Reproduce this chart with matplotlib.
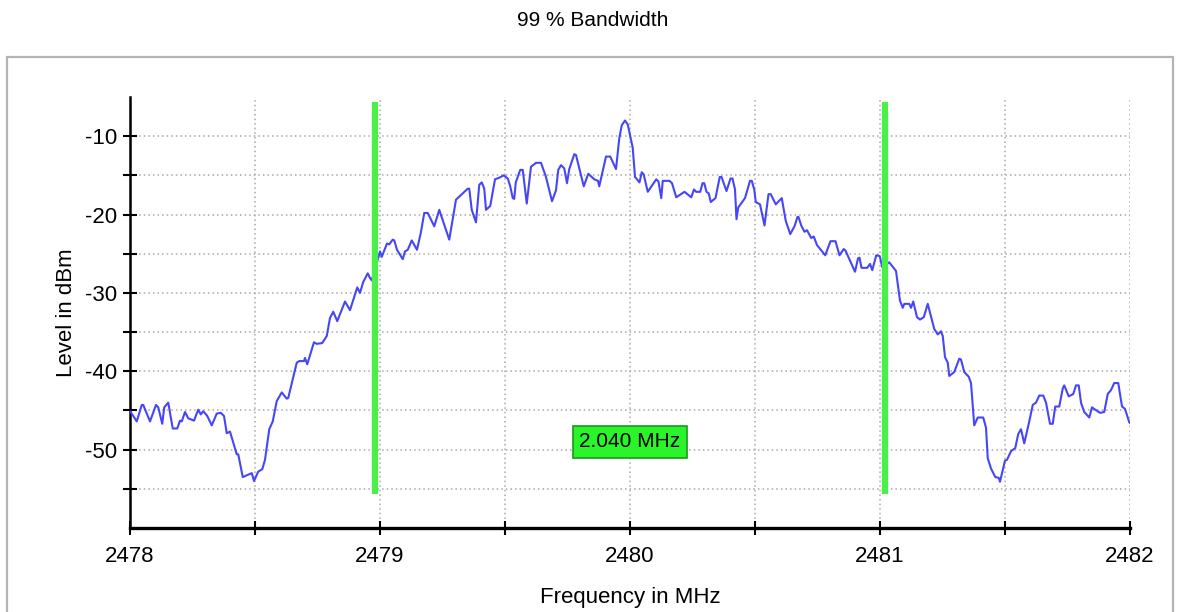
import matplotlib
matplotlib.use("Agg")
import matplotlib.pyplot as plt
from matplotlib.patches import Rectangle

plt.rcParams['font.family'] = ['Liberation Sans', 'DejaVu Sans']
plt.rcParams['axes.unicode_minus'] = False

# trace: frequency in MHz, level in dBm
freq = [
    2478.000, 2478.013, 2478.027, 2478.047, 2478.053, 2478.080, 2478.104, 2478.113,
    2478.129, 2478.137, 2478.153, 2478.171, 2478.189, 2478.200, 2478.207, 2478.220,
    2478.233, 2478.256, 2478.273, 2478.283, 2478.293, 2478.309, 2478.327, 2478.347,
    2478.363, 2478.376, 2478.387, 2478.400, 2478.427, 2478.433, 2478.451, 2478.487,
    2478.496, 2478.513, 2478.529, 2478.540, 2478.557, 2478.571, 2478.587, 2478.607,
    2478.627, 2478.633, 2478.667, 2478.677, 2478.696, 2478.700, 2478.709, 2478.736,
    2478.747, 2478.769, 2478.787, 2478.800, 2478.813, 2478.829, 2478.860, 2478.880,
    2478.909, 2478.920, 2478.933, 2478.951, 2478.960, 2478.967,
    2479.000, 2479.007, 2479.028, 2479.037, 2479.051, 2479.057, 2479.068, 2479.091,
    2479.100, 2479.111, 2479.127, 2479.148, 2479.164, 2479.177, 2479.191, 2479.217,
    2479.237, 2479.257, 2479.277, 2479.304, 2479.351, 2479.357, 2479.367, 2479.384,
    2479.397, 2479.407, 2479.417, 2479.424, 2479.441, 2479.460, 2479.477, 2479.495,
    2479.511, 2479.521, 2479.531, 2479.537, 2479.543, 2479.561, 2479.571, 2479.587,
    2479.604, 2479.624, 2479.644, 2479.664, 2479.688, 2479.704, 2479.713, 2479.724,
    2479.737, 2479.748, 2479.757, 2479.777, 2479.784, 2479.815, 2479.833, 2479.857,
    2479.872, 2479.877, 2479.904, 2479.921, 2479.944, 2479.957, 2479.967, 2479.980,
    2479.991,
    2480.011, 2480.020, 2480.038, 2480.047, 2480.055, 2480.071, 2480.105, 2480.114,
    2480.125, 2480.131, 2480.158, 2480.168, 2480.185, 2480.218, 2480.245, 2480.256,
    2480.265, 2480.281, 2480.290, 2480.297, 2480.306, 2480.315, 2480.323, 2480.342,
    2480.359, 2480.366, 2480.386, 2480.402, 2480.410, 2480.420, 2480.426, 2480.433,
    2480.460, 2480.480, 2480.487, 2480.497, 2480.503, 2480.520, 2480.538, 2480.554,
    2480.563, 2480.583, 2480.607, 2480.623, 2480.641, 2480.658, 2480.670, 2480.674,
    2480.685, 2480.698, 2480.708, 2480.725, 2480.735, 2480.748, 2480.781, 2480.802,
    2480.822, 2480.838, 2480.855, 2480.862, 2480.900, 2480.912, 2480.918, 2480.926,
    2480.949, 2480.960, 2480.969, 2480.985, 2480.999, 2481.009,
    2481.037, 2481.064, 2481.080, 2481.091, 2481.097, 2481.117, 2481.124, 2481.133,
    2481.148, 2481.160, 2481.175, 2481.191, 2481.217, 2481.231, 2481.244, 2481.251,
    2481.260, 2481.271, 2481.277, 2481.297, 2481.317, 2481.324, 2481.337, 2481.355,
    2481.364, 2481.377, 2481.391, 2481.413, 2481.424, 2481.431, 2481.444, 2481.461,
    2481.475, 2481.480, 2481.491, 2481.500, 2481.508, 2481.524, 2481.541, 2481.553,
    2481.564, 2481.577, 2481.597, 2481.611, 2481.624, 2481.637, 2481.653, 2481.664,
    2481.680, 2481.691, 2481.701, 2481.717, 2481.731, 2481.737, 2481.755, 2481.773,
    2481.784, 2481.795, 2481.804, 2481.817, 2481.837, 2481.848, 2481.861, 2481.880,
    2481.897, 2481.911, 2481.924, 2481.937, 2481.953, 2481.968, 2481.980, 2481.997,
    2482.000,
]
level = [
    -45.1, -45.7, -46.4, -44.3, -44.3, -46.4, -44.3, -44.6,
    -46.7, -44.6, -44.0, -47.3, -47.3, -46.3, -46.4, -45.2,
    -46.0, -46.3, -44.9, -45.5, -45.1, -45.7, -46.9, -45.4,
    -45.3, -45.7, -47.9, -47.7, -50.6, -50.6, -53.5, -53.0,
    -54.0, -52.8, -52.5, -51.3, -47.4, -46.4, -43.8, -42.7,
    -43.5, -43.4, -38.9, -38.7, -38.7, -38.3, -39.1, -36.3,
    -36.5, -36.4, -35.5, -33.2, -32.4, -33.6, -31.1, -32.2,
    -29.3, -30.0, -28.6, -27.5, -28.1, -28.4,
    -24.7, -25.4, -23.7, -23.8, -23.2, -23.3, -24.5, -25.7,
    -24.7, -24.5, -23.3, -24.5, -22.2, -19.8, -19.8, -21.5,
    -19.4, -21.3, -23.2, -18.1, -16.7, -16.7, -19.4, -21.0,
    -16.2, -15.9, -16.7, -19.4, -18.9, -15.5, -15.3, -15.0,
    -15.4, -16.4, -17.9, -18.0, -15.9, -14.3, -14.3, -18.6,
    -13.9, -13.4, -13.4, -15.2, -18.3, -16.9, -14.3, -13.7,
    -14.1, -16.0, -14.2, -12.3, -12.4, -16.4, -14.8, -15.5,
    -15.7, -16.4, -12.6, -12.6, -14.2, -10.3, -8.6, -8.0,
    -8.5,
    -11.5, -15.2, -15.9, -14.6, -14.9, -17.1, -15.5, -15.8,
    -17.9, -15.7, -15.7, -16.0, -17.8, -17.1, -17.8, -16.8,
    -17.1, -17.1, -16.0, -16.0, -17.1, -17.3, -18.4, -17.9,
    -15.2, -15.2, -17.0, -15.4, -15.4, -16.8, -20.6, -19.1,
    -17.9, -15.7, -15.7, -16.8, -18.4, -18.7, -21.4, -17.4,
    -17.4, -18.7, -17.9, -20.8, -22.5, -21.5, -20.3, -20.3,
    -21.4, -22.2, -22.0, -23.0, -22.8, -23.9, -25.2, -23.4,
    -23.4, -25.2, -24.4, -24.6, -27.3, -25.6, -25.5, -26.8,
    -26.8, -26.3, -27.1, -25.2, -25.3, -26.7,
    -26.1, -27.2, -31.0, -31.9, -31.4, -31.4, -31.9, -31.1,
    -33.1, -33.4, -33.1, -31.4, -34.6, -35.3, -34.9, -35.5,
    -38.2, -38.9, -40.6, -40.1, -38.4, -38.5, -40.1, -40.7,
    -41.5, -46.9, -45.9, -45.9, -47.2, -51.1, -52.4, -53.5,
    -53.6, -54.1, -52.6, -51.4, -51.3, -50.2, -49.8, -48.0,
    -47.4, -49.2, -46.4, -44.3, -44.0, -43.1, -43.1, -44.0,
    -46.7, -46.7, -44.5, -44.5, -42.2, -41.8, -43.2, -42.9,
    -41.8, -41.8, -44.0, -45.2, -45.9, -44.6, -44.9, -45.3,
    -45.2, -42.9, -42.4, -41.5, -41.5, -44.5, -44.8, -46.5,
    -46.6,
]

# occupied bandwidth markers
bw_edges = [2478.98, 2481.02]
bw_bottom = -55.6
bw_top = -5.6
bw_label = "2.040 MHz"

x_major = [2478, 2479, 2480, 2481, 2482]
x_minor = [2478.5, 2479.5, 2480.5, 2481.5]
y_major = [-10, -20, -30, -40, -50]
y_minor = [-15, -25, -35, -45, -55]

fig = plt.figure(figsize=(11.8, 6.12), dpi=100)
fig.patches.append(Rectangle((7 / 1180, -0.01), 1166 / 1180, 0.917, transform=fig.transFigure,
                             fill=False, edgecolor='#b4b4b4', linewidth=1.6))
fig.text(0.502, 0.967, "99 % Bandwidth", ha='center', va='center', fontsize=15)

ax = fig.add_axes([130 / 1180, 84 / 612, 1000 / 1180, 431 / 612])

ax.plot(freq, level, color='#4646f8', linewidth=1.5, zorder=3)
ax.vlines(bw_edges, bw_bottom, bw_top, color='#48f048', linewidth=4.5, zorder=4)
ax.text(2480.0, -49.0, bw_label, ha='center', va='center', fontsize=15, zorder=5,
        bbox=dict(boxstyle='square,pad=0.3', facecolor='#2af52a', edgecolor='#1a9a1a', linewidth=1.2))

ax.set_xlim(2478, 2482)
ax.set_ylim(-60, -5)

ax.set_xticks(x_major)
ax.set_xticklabels([str(v) for v in x_major])
ax.set_xticks(x_minor, minor=True)
ax.set_yticks(y_major)
ax.set_yticklabels([str(v) for v in y_major])
ax.set_yticks(y_minor, minor=True)

ax.tick_params(axis='both', which='both', direction='inout', length=10, width=1.5, colors='black')
ax.tick_params(axis='x', which='major', labelsize=16, pad=8)
ax.tick_params(axis='y', which='major', labelsize=16, pad=4)

ax.grid(True, which='both', color='#a8a8a8', linestyle=(0, (1, 2)), linewidth=1.1)
ax.set_axisbelow(True)

for side in ['top', 'right']:
    ax.spines[side].set_visible(False)
ax.spines['left'].set_linewidth(1.8)
ax.spines['bottom'].set_linewidth(2.4)

ax.set_xlabel("Frequency in MHz", fontsize=16, labelpad=14)
ax.set_ylabel("Level in dBm", fontsize=16, labelpad=6)

fig.savefig("out.png", dpi=100)
